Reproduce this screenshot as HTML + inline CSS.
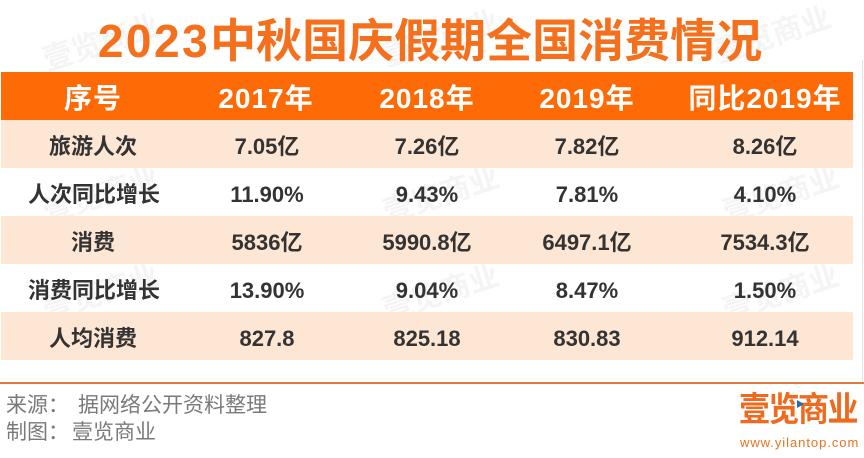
<!DOCTYPE html>
<html><head><meta charset="utf-8"><style>
*{margin:0;padding:0;box-sizing:border-box}
body{width:864px;height:458px;background:#fff;position:relative;overflow:hidden;font-family:"Liberation Sans","Noto Sans CJK SC",sans-serif}
.t{position:absolute;white-space:nowrap}
.title{left:0;width:864px;top:18px;text-align:center;font-size:46px;line-height:46px;font-weight:bold;color:#f4701c;letter-spacing:0px;padding-right:4px}
.title .d{letter-spacing:2.5px}
.hdr{position:absolute;left:1px;top:72px;width:852px;height:48px;background:#fe6b06}
.row{position:absolute;left:1px;width:852px;height:48px}
.pe{background:#fde6d4}
.c{position:absolute;width:200px;margin-left:-100px;text-align:center;white-space:nowrap}
.h .c{font-size:28px;line-height:48px;color:#fff;font-weight:bold;letter-spacing:1px;top:3px}
.r .c{font-size:22px;line-height:48px;color:#333;font-weight:bold;top:3px}
.line{position:absolute;left:0;top:382px;width:864px;height:2px;background:#e3793a}
.foot{font-size:21px;color:#7a7a7a;line-height:27px;font-family:"Liberation Sans","Noto Sans CJK SC",sans-serif}
.wm{position:absolute;font-size:30px;font-weight:bold;color:rgba(0,0,0,0.045);transform:rotate(-18deg);white-space:nowrap;font-family:"Noto Sans CJK SC",sans-serif}
.logo{position:absolute;left:739px;top:386px;font-size:31px;font-weight:bold;color:#f06a1e;line-height:38px;letter-spacing:-1.5px;transform:scaleY(1.1);transform-origin:top left;font-family:"Noto Sans CJK SC",sans-serif}
.url{position:absolute;left:740px;top:435px;font-size:13px;color:#e8731f;letter-spacing:0.95px;line-height:16px}
</style></head><body>
<div class="wm" style="left:40px;top:18px">壹览商业</div>
<div class="wm" style="left:380px;top:14px">壹览商业</div>
<div class="wm" style="left:712px;top:10px">壹览商业</div>
<div class="wm" style="left:40px;top:170px">壹览商业</div>
<div class="wm" style="left:380px;top:170px">壹览商业</div>
<div class="wm" style="left:720px;top:170px">壹览商业</div>
<div class="wm" style="left:40px;top:268px">壹览商业</div>
<div class="wm" style="left:380px;top:268px">壹览商业</div>
<div class="wm" style="left:720px;top:268px">壹览商业</div>

<div class="t title"><span class="d">2023</span>中秋国庆假期全国消费情况</div>

<div class="hdr h">
<div class="c" style="left:92px">序号</div>
<div class="c" style="left:265px">2017年</div>
<div class="c" style="left:426px">2018年</div>
<div class="c" style="left:586px">2019年</div>
<div class="c" style="left:764px">同比2019年</div>
</div>

<div class="row r pe" style="top:120px">
<div class="c" style="left:92px">旅游人次</div>
<div class="c" style="left:266px">7.05亿</div>
<div class="c" style="left:426px">7.26亿</div>
<div class="c" style="left:586px">7.82亿</div>
<div class="c" style="left:764px">8.26亿</div>
</div>
<div class="row r" style="top:168px">
<div class="c" style="left:93px">人次同比增长</div>
<div class="c" style="left:266px">11.90%</div>
<div class="c" style="left:426px">9.43%</div>
<div class="c" style="left:586px">7.81%</div>
<div class="c" style="left:764px">4.10%</div>
</div>
<div class="row r pe" style="top:216px">
<div class="c" style="left:92px">消费</div>
<div class="c" style="left:266px">5836亿</div>
<div class="c" style="left:426px">5990.8亿</div>
<div class="c" style="left:586px">6497.1亿</div>
<div class="c" style="left:764px">7534.3亿</div>
</div>
<div class="row r" style="top:264px">
<div class="c" style="left:93px">消费同比增长</div>
<div class="c" style="left:266px">13.90%</div>
<div class="c" style="left:426px">9.04%</div>
<div class="c" style="left:586px">8.47%</div>
<div class="c" style="left:764px">1.50%</div>
</div>
<div class="row r pe" style="top:312px">
<div class="c" style="left:92px">人均消费</div>
<div class="c" style="left:266px">827.8</div>
<div class="c" style="left:426px">825.18</div>
<div class="c" style="left:586px">830.83</div>
<div class="c" style="left:764px">912.14</div>
</div>
<div style="position:absolute;left:862px;top:60px;width:1px;height:322px;background:#e4e4e4"></div>
<div class="line"></div>

<div class="t foot" style="left:6px;top:392px">来源：</div>
<div class="t foot" style="left:78px;top:392px">据网络公开资料整理</div>
<div class="t foot" style="left:6px;top:419px">制图：</div>
<div class="t foot" style="left:72px;top:419px">壹览商业</div>

<div class="logo">壹览商业</div>
<div style="position:absolute;left:797px;top:400px;width:0;height:0;border-top:4px solid transparent;border-bottom:4px solid transparent;border-left:7px solid #1f6fb5"></div>
<div class="url">www.yilantop.com</div>
</body></html>
